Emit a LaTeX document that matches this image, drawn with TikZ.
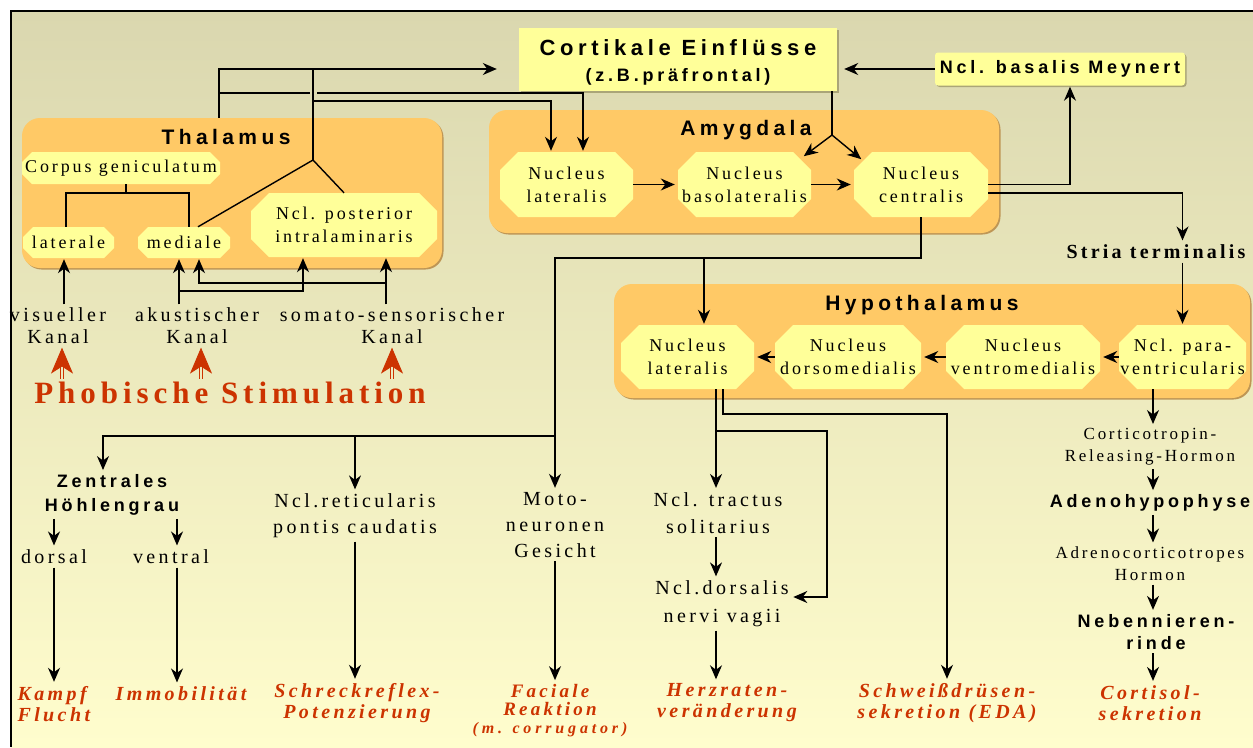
\documentclass[tikz,border=0pt]{standalone}
\usepackage{fontspec}
\setmainfont{Liberation Serif}
\newfontfamily\nucfont[LetterSpace=16]{Liberation Serif}
\newfontfamily\lowfont[LetterSpace=17]{Liberation Serif}
\newfontfamily\headfont[LetterSpace=21]{Liberation Sans}
\usetikzlibrary{arrows.meta,shadows}

\definecolor{bgtop}{RGB}{218,215,175}
\definecolor{bgbot}{RGB}{255,253,205}
\definecolor{bgmid}{RGB}{238,236,192}
\definecolor{grpfill}{RGB}{255,201,102}
\definecolor{grpshade}{RGB}{190,150,85}
\definecolor{nucfill}{RGB}{255,255,153}
\definecolor{boxshade}{RGB}{170,165,120}
\definecolor{phobred}{RGB}{204,51,0}

\tikzset{chamf/.store in=\chamf, chamf=18}

\begin{document}
\begin{tikzpicture}[x=1pt,y=-1pt,
    link/.style={line width=1.4pt},
    arr/.style={link,-{Stealth[length=14pt,width=12pt,inset=4.5pt]},shorten >=1pt},
    redarr/.style={phobred,line width=0.9pt,double=bgmid,double distance=2.2pt,
      -{Stealth[length=26pt,width=22pt,inset=7pt]}},
    region/.style={rectangle,rounded corners=18pt,fill=grpfill,
      drop shadow={shadow xshift=1.5pt,shadow yshift=-1.5pt,fill=grpshade,opacity=1}},
    grptitle/.style={font=\headfont\bfseries\fontsize{21}{24}\selectfont},
    nucleus/.style={rectangle,inner sep=0pt,align=center,font=\nucfont\fontsize{18}{23}\selectfont,
      path picture={
        \fill[nucfill] ([xshift=\chamf pt]path picture bounding box.north west)
          -- ([xshift=-\chamf pt]path picture bounding box.north east)
          -- ([yshift=-\chamf pt]path picture bounding box.north east)
          -- ([yshift=\chamf pt]path picture bounding box.south east)
          -- ([xshift=-\chamf pt]path picture bounding box.south east)
          -- ([xshift=\chamf pt]path picture bounding box.south west)
          -- ([yshift=\chamf pt]path picture bounding box.south west)
          -- ([yshift=-\chamf pt]path picture bounding box.north west) -- cycle;}},
    smallnuc/.style={nucleus,chamf=10},
    cortbox/.style={rectangle,fill=nucfill,inner sep=0pt,
      drop shadow={shadow xshift=1.5pt,shadow yshift=-1.5pt,fill=boxshade,opacity=1}},
    headtxt/.style={align=center,inner sep=0pt,font=\headfont\bfseries\fontsize{22}{26}\selectfont},
    txt/.style={align=center,font=\lowfont\fontsize{20}{26}\selectfont},
    boldtxt/.style={align=center,font=\headfont\bfseries\fontsize{18}{24}\selectfont},
    result/.style={align=center,text=phobred,font=\lowfont\bfseries\itshape\fontsize{20}{21}\selectfont}
  ]
  \useasboundingbox (0,0) rectangle (1253,747);
  \fill[white] (0,0) rectangle (1253,747);
  \shade[top color=bgtop,bottom color=bgbot] (11,11) rectangle (1253,747);
  \draw[line width=2pt] (11,747) -- (11,11) -- (1253,11);

  % regions
  \node[region,minimum width=420,minimum height=150] (thal) at (232,193) {};
  \node[grptitle] (thaltitle) at (226,137) {Thalamus};
  \node[region,minimum width=510,minimum height=123] (amyg) at (744,171.5) {};
  \node[grptitle] (amygtitle) at (746,130) {Amygdala};
  \node[region,minimum width=636,minimum height=114] (hypo) at (932,341) {};
  \node[grptitle] (hypotitle) at (922,305) {Hypothalamus};

  % cortex
  \node[cortbox,minimum width=318,minimum height=63,
    label={[headtxt,yshift=-2.5pt]center:{Cortikale Einflüsse\\{\fontsize{18}{20}\selectfont (z.B.präfrontal)}}}]
    (corti) at (678,59.5) {};
  \node[cortbox,rounded corners=3pt,minimum width=250,minimum height=33,
    font=\headfont\bfseries\fontsize{18}{20}\selectfont] (meyn) at (1060,69)
    {Ncl. basalis Meynert};

  % thalamus
  \node[smallnuc,minimum width=198,minimum height=32] (corpus) at (121,168) {Corpus geniculatum};
  \node[smallnuc,minimum width=91,minimum height=31] (laterale) at (68.5,242.5) {laterale};
  \node[smallnuc,minimum width=92,minimum height=31] (mediale) at (184,242.5) {mediale};
  \node[nucleus,minimum width=186,minimum height=64] (posterior) at (344,225) {Ncl. posterior\\intralaminaris};

  % amygdala
  \node[nucleus,minimum width=133,minimum height=65] (alat) at (566.5,184.5) {Nucleus\\lateralis};
  \node[nucleus,minimum width=133,minimum height=65] (abaso) at (744.5,184.5) {Nucleus\\basolateralis};
  \node[nucleus,minimum width=134,minimum height=65] (acent) at (921,184.5) {Nucleus\\centralis};

  % hypothalamus
  \node[nucleus,minimum width=133,minimum height=64] (hlat) at (687.5,357) {Nucleus\\lateralis};
  \node[nucleus,minimum width=146,minimum height=64] (hdorso) at (848,357) {Nucleus\\dorsomedialis};
  \node[nucleus,minimum width=154,minimum height=64] (hventro) at (1023,357) {Nucleus\\ventromedialis};
  \node[nucleus,minimum width=127,minimum height=64] (hpara) at (1182.5,357) {Ncl. para-\\ventricularis};

  \node[align=center,font=\nucfont\bfseries\fontsize{20}{22}\selectfont] (stria) at (1156,252) {Stria terminalis};

  % sensory input
  \node[txt,font=\lowfont\fontsize{20}{22}\selectfont] (visuell) at (58,326) {visueller\\Kanal};
  \node[txt,font=\lowfont\fontsize{20}{22}\selectfont] (akust) at (197,326) {akustischer\\Kanal};
  \node[txt,font=\lowfont\fontsize{20}{22}\selectfont] (somato) at (392,326) {somato-sensorischer\\Kanal};
  \node[text=phobred,font=\nucfont\bfseries\fontsize{31}{33}\selectfont] (phob) at (230,393) {Phobische Stimulation};

  % outputs
  \node[boldtxt] (zentral) at (112,495) {Zentrales\\Höhlengrau};
  \node[txt] (dorsal) at (54,557) {dorsal};
  \node[txt] (ventral) at (171,557) {ventral};
  \node[txt] (retic) at (355,516) {Ncl.reticularis\\pontis caudatis};
  \node[txt] (moto) at (555,525) {Moto-\\neuronen\\Gesicht};
  \node[txt,font=\lowfont\fontsize{20}{27}\selectfont] (tractus) at (718,513) {Ncl. tractus\\solitarius};
  \node[txt,font=\lowfont\fontsize{20}{28}\selectfont] (dorsalis) at (722,604) {Ncl.dorsalis\\nervi vagii};
  \node[txt,font=\nucfont\fontsize{17}{22}\selectfont] (crh) at (1150,447) {Corticotropin-\\Releasing-Hormon};
  \node[boldtxt] (adeno) at (1150,503) {Adenohypophyse};
  \node[txt,font=\nucfont\fontsize{17}{22}\selectfont] (acth) at (1150,564) {Adrenocorticotropes\\Hormon};
  \node[boldtxt,font=\headfont\bfseries\fontsize{18}{22}\selectfont] (nnr) at (1156,632) {Nebennieren-\\rinde};

  \node[result,align=left,anchor=west] (kampf) at (14,704) {Kampf\\Flucht};
  \node[result] (immob) at (181,694) {Immobilität};
  \node[result] (schreck) at (357,703) {Schreckreflex-\\Potenzierung};
  \node[result,font=\lowfont\bfseries\itshape\fontsize{19}{18}\selectfont] (faciale) at (550,711)
    {Faciale\\Reaktion\\{\fontsize{16}{18}\selectfont\addfontfeatures{LetterSpace=24}(m. corrugator)}};
  \node[result] (herz) at (727,703) {Herzraten-\\veränderung};
  \node[result] (schweiss) at (947,703) {Schweißdrüsen-\\sekretion (EDA)};
  \node[result] (cortisol) at (1150,703) {Cortisol-\\sekretion};

  % thalamus wiring
  \coordinate (cg) at (126,193);
  \draw[link] ([xshift=5pt]corpus.south) -- (cg);
  \draw[link] ([xshift=-2.5pt]laterale.north) |- (cg) -| ([xshift=5pt]mediale.north);
  \coordinate (jn) at (313,160);
  \draw[link] ([xshift=14pt]mediale.north) -- (jn) -- (posterior.north);

  % thalamus to cortex and amygdala
  \coordinate (jtop) at (313,69);
  \coordinate (jmid) at (313,101);
  \coordinate (tb) at (219,93);
  \draw[link] (jn) -- (jtop);
  \draw[arr] ([xshift=-13pt]thal.north) |- ([xshift=-21pt,yshift=-9.5pt]corti.west);
  \draw[link] (tb) -- ++(91,0);
  \draw[arr] ([xshift=98pt]tb) -| ([xshift=16.5pt]alat.north);
  \draw[arr] (jmid) -| ([xshift=-15.5pt]alat.north);

  % cortex
  \draw[arr] (meyn.west) -- ([xshift=6pt]corti.east |- meyn.west);
  \coordinate (jc) at (832,135);
  \draw[link] (corti.south -| jc) -- (jc);
  \draw[arr] (jc) -- ([xshift=58.5pt,yshift=-5pt]abaso.north);
  \draw[arr] (jc) -- ([xshift=-59pt,yshift=-8pt]acent.north);

  % amygdala
  \draw[arr,shorten >=3pt] (alat) -- (abaso);
  \draw[arr,shorten >=3pt] (abaso) -- (acent);
  \draw[arr] (acent.east) -| ([xshift=10pt]meyn.south);
  \draw[arr] ([yshift=-8.5pt]acent.east) -| (stria.north -| hpara.north);
  \draw[arr] (stria.south -| hpara.north) -- (hpara.north);

  \coordinate (jl) at (555,258);
  \coordinate (jb) at (555,436);
  \draw[arr] (acent.south) |- (jl) -- (moto.north);
  \draw[arr] ([xshift=16.5pt]hlat.north |- jl) -- ([xshift=16.5pt]hlat.north);
  \draw[arr] (jb) -| ([xshift=-9pt]zentral.north);
  \draw[arr] (jb -| retic.north) -- (retic.north);

  % brainstem
  \draw[arr] (zentral.south -| dorsal.north) -- (dorsal.north);
  \draw[arr] ([xshift=6pt]ventral.north |- zentral.south) -- ([xshift=6pt]ventral.north);
  \draw[arr] (dorsal.south) -- (dorsal.south |- kampf.north);
  \draw[arr] ([xshift=6pt]ventral.south) -- ([xshift=6pt]ventral.south |- immob.north);
  \draw[arr] (retic.south) -- (retic.south |- schreck.north);
  \draw[arr] (moto.south) -- (moto.south |- faciale.north);

  % hypothalamus
  \draw[arr,shorten >=3pt] (hpara) -- (hventro);
  \draw[arr,shorten >=3pt] (hventro) -- (hdorso);
  \draw[arr,shorten >=3pt] (hdorso) -- (hlat);
  \draw[arr] ([xshift=28.5pt]hlat.south) -- ([xshift=28.5pt]hlat.south |- tractus.north);
  \coordinate (jv) at (716,431);
  \coordinate (jr) at (827,597);
  \draw[arr] (jv) -| (jr) -- (dorsalis.east |- jr);
  \draw[arr] (tractus.south -| jv) -- (dorsalis.north -| jv);
  \draw[arr] (dorsalis.south -| jv) -- (herz.north -| jv);
  \coordinate (js) at (947,414);
  \draw[arr] ([xshift=35.5pt]hlat.south) |- (js) -- (schweiss.north);

  % HPA axis
  \coordinate (hpx) at ([xshift=-29.5pt]hpara.south);
  \draw[arr] (hpx) -- (hpx |- crh.north);
  \draw[arr] (crh.south -| hpx) -- (adeno.north -| hpx);
  \draw[arr] (adeno.south -| hpx) -- (acth.north -| hpx);
  \draw[arr] (acth.south -| hpx) -- (nnr.north -| hpx);
  \draw[arr] (nnr.south -| hpx) -- (cortisol.north -| hpx);

  % sensory channels
  \draw[arr] ([xshift=-4.5pt]laterale.south |- visuell.north) -- ([xshift=-4.5pt]laterale.south);
  \draw[arr] ([xshift=-5pt]mediale.south |- akust.north) -- ([xshift=-5pt]mediale.south);
  \coordinate (ja) at (179,291);
  \draw[arr] (ja) -| ([xshift=-41pt]posterior.south);
  \draw[arr] ([xshift=42pt]posterior.south |- somato.north) -- ([xshift=42pt]posterior.south);
  \coordinate (jso) at (386,283);
  \draw[arr] (jso) -| ([xshift=15pt]mediale.south);

  \draw[redarr] ([xshift=4pt]phob.north -| visuell.south) -- ([xshift=4pt]visuell.south);
  \draw[redarr] ([xshift=4pt]phob.north -| akust.south) -- ([xshift=4pt]akust.south);
  \draw[redarr] (phob.north -| somato.south) -- (somato.south);
\end{tikzpicture}
\end{document}
